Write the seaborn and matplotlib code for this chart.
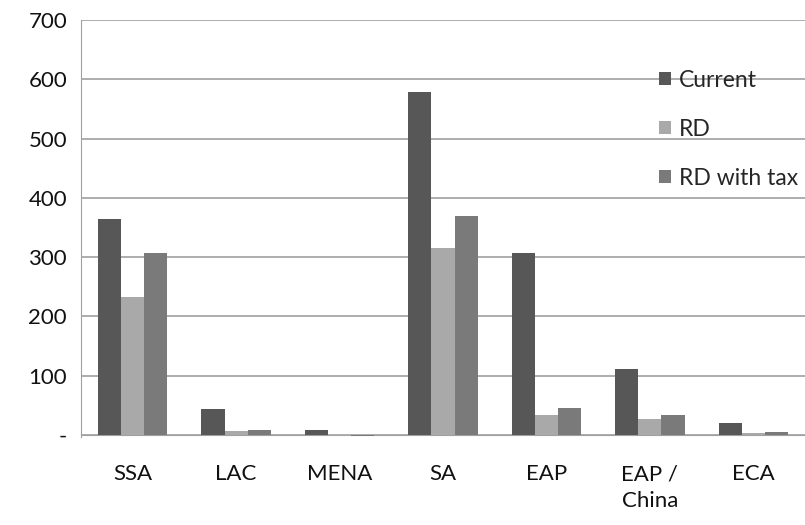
import pandas as pd
import matplotlib.pyplot as plt
import seaborn as sns

# Data
regions = ["SSA", "LAC", "MENA", "SA", "EAP", "EAP /\nChina", "ECA"]
current = [364, 44, 8, 579, 307, 111, 20]
rd = [232, 6, -1, 315, 34, 27, 4]
rd_tax = [307, 8, -2, 369, 46, 34, 5]
series = ["Current", "RD", "RD with tax"]
y_ticks = [0, 100, 200, 300, 400, 500, 600, 700]
y_labels = ["-", "100", "200", "300", "400", "500", "600", "700"]

df = pd.DataFrame({"Region": regions, "Current": current, "RD": rd, "RD with tax": rd_tax})
df = df.melt(id_vars="Region", var_name="Series", value_name="Value")

sns.set_style("white")
plt.rcParams["font.family"] = ["Lato", "DejaVu Sans"]

fig = plt.figure(figsize=(8.05, 5.25), dpi=100)
ax = fig.add_axes([0.1006, 0.1669, 0.8994, 0.795])

palette = {"Current": "#575757", "RD": "#a9a9a9", "RD with tax": "#7a7a7a"}
sns.barplot(data=df, x="Region", y="Value", hue="Series", hue_order=series,
            order=regions, palette=palette, width=0.67, saturation=1,
            edgecolor="none", ax=ax, zorder=3)

ax.set_ylim(-4, 700)
ax.set_xlim(-0.5, len(regions) - 0.5)
ax.set_yticks(y_ticks)
ax.set_yticklabels(y_labels)
ax.yaxis.grid(True, color="#a0a0a0", lw=1.2, zorder=0)
ax.set_xlabel("")
ax.set_ylabel("")

for s in ["top", "right"]:
    ax.spines[s].set_visible(False)
ax.spines["left"].set_color("#a0a0a0")
ax.spines["bottom"].set_color("#a0a0a0")
ax.spines["bottom"].set_position(("data", 0))
ax.spines["bottom"].set_zorder(2)

# tick marks sit between categories, labels in the middle
ax.set_xticks([i - 0.5 for i in range(len(regions) + 1)], minor=True)
ax.tick_params(axis="x", which="minor", length=8, color="#a0a0a0", width=1.2)
ax.tick_params(axis="x", which="major", length=0, pad=21, labelsize=16, colors="#111111")
ax.tick_params(axis="y", length=0, pad=10, labelsize=16, colors="#111111")
for lbl in ax.get_xticklabels():
    lbl.set_linespacing(1.4)

ax.legend(loc="upper left", bbox_to_anchor=(0.785, 0.903), frameon=False, fontsize=16.5,
          labelspacing=1.22, handlelength=0.55, handleheight=0.55, handletextpad=0.35,
          borderaxespad=0)

plt.savefig("out.png", dpi=100)
